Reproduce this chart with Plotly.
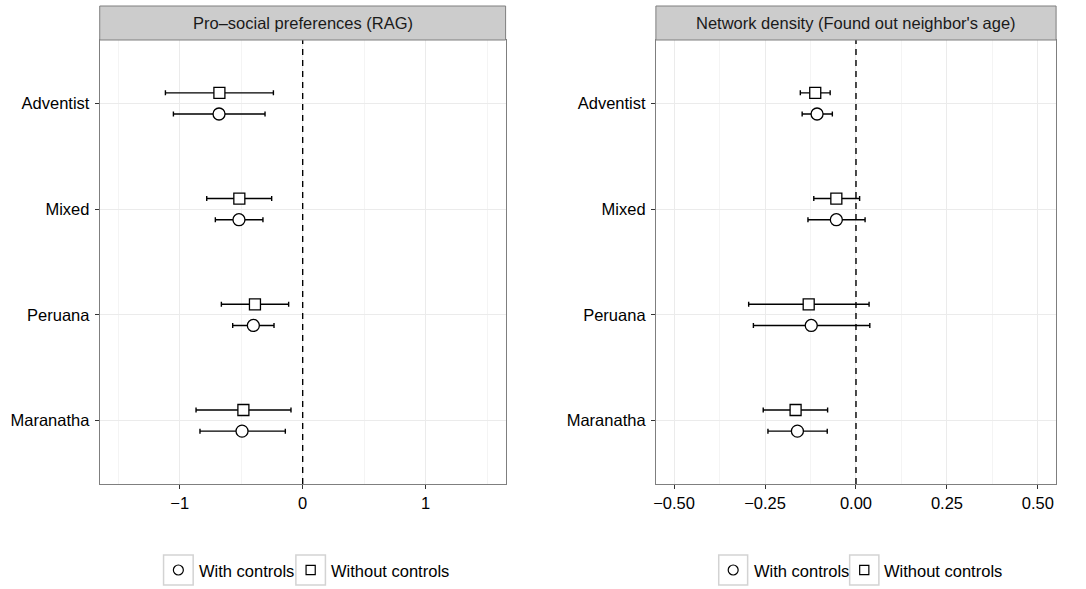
import plotly.graph_objects as go

W, H = 1086, 589

categories = ["Adventist", "Mixed", "Peruana", "Maranatha"]
panel_titles = ["Pro\u2013social preferences (RAG)", "Network density (Found out neighbor's age)"]
series_names = ["With controls", "Without controls"]

# Pro-social preferences (RAG)
rag_with_est = [-0.680, -0.518, -0.401, -0.493]
rag_with_lo = [-1.051, -0.710, -0.569, -0.835]
rag_with_hi = [-0.306, -0.323, -0.233, -0.141]
rag_without_est = [-0.677, -0.515, -0.388, -0.482]
rag_without_lo = [-1.116, -0.780, -0.661, -0.867]
rag_without_hi = [-0.238, -0.252, -0.114, -0.095]

# Network density (Found out neighbor's age)
net_with_est = [-0.107, -0.054, -0.123, -0.161]
net_with_lo = [-0.148, -0.132, -0.282, -0.242]
net_with_hi = [-0.065, 0.025, 0.038, -0.079]
net_without_est = [-0.112, -0.054, -0.130, -0.166]
net_without_lo = [-0.153, -0.116, -0.295, -0.255]
net_without_hi = [-0.071, 0.010, 0.036, -0.078]

FONT = "Liberation Sans, Arial, Helvetica, sans-serif"
FS = 16.5

def px_x(x):
    return x / W

def px_y(y):
    return 1 - y / H

n = len(categories)
ypos = [n - i for i in range(n)]
dodge = 0.1

fig = go.Figure()

panels = [
    ("x", "y", [(rag_with_est, rag_with_lo, rag_with_hi), (rag_without_est, rag_without_lo, rag_without_hi)]),
    ("x2", "y2", [(net_with_est, net_with_lo, net_with_hi), (net_without_est, net_without_lo, net_without_hi)]),
]
symbols = ["circle", "square"]
sizes = [12, 11]
offsets = [-dodge, dodge]

for xa, ya, series in panels:
    for k, (est, lo, hi) in enumerate(series):
        fig.add_trace(go.Scatter(
            x=est,
            y=[p + offsets[k] for p in ypos],
            xaxis=xa, yaxis=ya,
            mode="markers",
            name=series_names[k],
            showlegend=False,
            marker=dict(symbol=symbols[k], size=sizes[k], color="white",
                        line=dict(color="black", width=1.3)),
            error_x=dict(type="data", symmetric=False,
                         array=[h - e for h, e in zip(hi, est)],
                         arrayminus=[e - l for e, l in zip(est, lo)],
                         color="black", thickness=1.4, width=2.5),
        ))

axis_common = dict(
    showline=True, mirror=True, linecolor="#7f7f7f", linewidth=1,
    ticks="outside", ticklen=4, tickcolor="#333333", tickwidth=1,
    showgrid=True, gridcolor="#ebebeb", gridwidth=1,
    zeroline=False,
    tickfont=dict(family=FONT, size=FS, color="black"),
)

ydom = [px_y(484), px_y(40)]

fig.update_layout(
    width=W, height=H,
    margin=dict(l=0, r=0, t=0, b=0),
    paper_bgcolor="white", plot_bgcolor="white",
    showlegend=False,
    font=dict(family=FONT, size=FS, color="black"),
    xaxis=dict(domain=[px_x(97), px_x(504)], anchor="y", range=[-1.65, 1.65],
               tickmode="linear", tick0=0, dtick=1,
               minor=dict(dtick=0.5, tick0=0, showgrid=True, gridcolor="#f4f4f4", gridwidth=0.6, ticks=""),
               **axis_common),
    yaxis=dict(domain=ydom, anchor="x", range=[0.4, n + 0.6],
               tickmode="array", tickvals=ypos, ticktext=categories,
               ticklabelstandoff=2,
               **axis_common),
    xaxis2=dict(domain=[px_x(654.7), px_x(1056)], anchor="y2", range=[-0.55, 0.55],
                tickmode="linear", tick0=0, dtick=0.25, tickformat=".2f",
                minor=dict(dtick=0.125, tick0=0, showgrid=True, gridcolor="#f4f4f4", gridwidth=0.6, ticks=""),
                **axis_common),
    yaxis2=dict(domain=ydom, anchor="x2", range=[0.4, n + 0.6],
                tickmode="array", tickvals=ypos, ticktext=categories,
                ticklabelstandoff=2,
                **axis_common),
)

# zero reference lines
for xa, ya in [("x", "y"), ("x2", "y2")]:
    fig.add_shape(type="line", xref=xa, yref=ya + " domain", x0=0, x1=0, y0=0, y1=1,
                  line=dict(color="black", width=1.4, dash="6px,5px"), layer="above")

# strips
strips = [(97, 504), (654.7, 1056)]
for (x0, x1), title in zip(strips, panel_titles):
    fig.add_shape(type="rect", xref="paper", yref="paper",
                  x0=px_x(x0), x1=px_x(x1), y0=px_y(40), y1=px_y(6),
                  fillcolor="#cccccc", line=dict(color="#7f7f7f", width=1), layer="above")
    fig.add_annotation(xref="paper", yref="paper", x=(px_x(x0) + px_x(x1)) / 2, y=px_y(23),
                       text=title, showarrow=False, xanchor="center", yanchor="middle",
                       font=dict(family=FONT, size=FS, color="#1a1a1a"))

# manual legends (one per panel)
legends = [
    [(161, 190.7, 194.3), (293.7, 323.3, 326.7)],
    [(717.7, 746.7, 750.7), (849, 878.3, 881.7)],
]
ly0, ly1 = 555, 585
lyc = (ly0 + ly1) / 2
for items in legends:
    for k, (bx0, bx1, tx) in enumerate(items):
        fig.add_shape(type="rect", xref="paper", yref="paper",
                      x0=px_x(bx0), x1=px_x(bx1), y0=px_y(ly1), y1=px_y(ly0),
                      fillcolor="white", line=dict(color="#d3d3d3", width=1.5))
        cx = (bx0 + bx1) / 2
        r = 5 if k == 0 else 4.6
        fig.add_shape(type="circle" if k == 0 else "rect", xref="paper", yref="paper",
                      x0=px_x(cx - r), x1=px_x(cx + r), y0=px_y(lyc + r), y1=px_y(lyc - r),
                      fillcolor="white", line=dict(color="black", width=1.2))
        fig.add_annotation(xref="paper", yref="paper", x=px_x(tx), y=px_y(lyc + 1),
                           text=series_names[k], showarrow=False, xanchor="left", yanchor="middle",
                           font=dict(family=FONT, size=FS, color="black"))

fig.write_html("out.html")
